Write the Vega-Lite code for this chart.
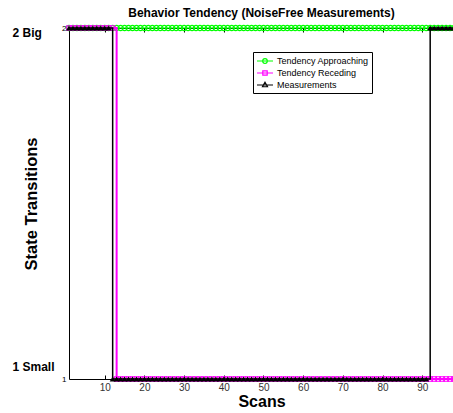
{
  "$schema": "https://vega.github.io/schema/vega-lite/v6.json",
  "autosize": "none",
  "width": 385,
  "height": 351,
  "padding": {"left": 69, "top": 28, "right": 0, "bottom": 34},
  "background": "white",
  "config": {"view": {"stroke": null}, "font": "Liberation Sans"},
  "title": {"text": "Behavior Tendency (NoiseFree Measurements)", "fontSize": 12, "fontWeight": "bold", "font": "Liberation Sans", "color": "black", "offset": 3},
  "data": {"values": [
    {"x":1,"a":2,"b":2,"c":2},{"x":2,"a":2,"b":2,"c":2},{"x":3,"a":2,"b":2,"c":2},{"x":4,"a":2,"b":2,"c":2},{"x":5,"a":2,"b":2,"c":2},
    {"x":6,"a":2,"b":2,"c":2},{"x":7,"a":2,"b":2,"c":2},{"x":8,"a":2,"b":2,"c":2},{"x":9,"a":2,"b":2,"c":2},{"x":10,"a":2,"b":2,"c":2},
    {"x":11,"a":2,"b":2,"c":2},{"x":12,"a":2,"b":2,"c":1},{"x":13,"a":2,"b":1,"c":1},{"x":14,"a":2,"b":1,"c":1},{"x":15,"a":2,"b":1,"c":1},
    {"x":16,"a":2,"b":1,"c":1},{"x":17,"a":2,"b":1,"c":1},{"x":18,"a":2,"b":1,"c":1},{"x":19,"a":2,"b":1,"c":1},{"x":20,"a":2,"b":1,"c":1},
    {"x":21,"a":2,"b":1,"c":1},{"x":22,"a":2,"b":1,"c":1},{"x":23,"a":2,"b":1,"c":1},{"x":24,"a":2,"b":1,"c":1},{"x":25,"a":2,"b":1,"c":1},
    {"x":26,"a":2,"b":1,"c":1},{"x":27,"a":2,"b":1,"c":1},{"x":28,"a":2,"b":1,"c":1},{"x":29,"a":2,"b":1,"c":1},{"x":30,"a":2,"b":1,"c":1},
    {"x":31,"a":2,"b":1,"c":1},{"x":32,"a":2,"b":1,"c":1},{"x":33,"a":2,"b":1,"c":1},{"x":34,"a":2,"b":1,"c":1},{"x":35,"a":2,"b":1,"c":1},
    {"x":36,"a":2,"b":1,"c":1},{"x":37,"a":2,"b":1,"c":1},{"x":38,"a":2,"b":1,"c":1},{"x":39,"a":2,"b":1,"c":1},{"x":40,"a":2,"b":1,"c":1},
    {"x":41,"a":2,"b":1,"c":1},{"x":42,"a":2,"b":1,"c":1},{"x":43,"a":2,"b":1,"c":1},{"x":44,"a":2,"b":1,"c":1},{"x":45,"a":2,"b":1,"c":1},
    {"x":46,"a":2,"b":1,"c":1},{"x":47,"a":2,"b":1,"c":1},{"x":48,"a":2,"b":1,"c":1},{"x":49,"a":2,"b":1,"c":1},{"x":50,"a":2,"b":1,"c":1},
    {"x":51,"a":2,"b":1,"c":1},{"x":52,"a":2,"b":1,"c":1},{"x":53,"a":2,"b":1,"c":1},{"x":54,"a":2,"b":1,"c":1},{"x":55,"a":2,"b":1,"c":1},
    {"x":56,"a":2,"b":1,"c":1},{"x":57,"a":2,"b":1,"c":1},{"x":58,"a":2,"b":1,"c":1},{"x":59,"a":2,"b":1,"c":1},{"x":60,"a":2,"b":1,"c":1},
    {"x":61,"a":2,"b":1,"c":1},{"x":62,"a":2,"b":1,"c":1},{"x":63,"a":2,"b":1,"c":1},{"x":64,"a":2,"b":1,"c":1},{"x":65,"a":2,"b":1,"c":1},
    {"x":66,"a":2,"b":1,"c":1},{"x":67,"a":2,"b":1,"c":1},{"x":68,"a":2,"b":1,"c":1},{"x":69,"a":2,"b":1,"c":1},{"x":70,"a":2,"b":1,"c":1},
    {"x":71,"a":2,"b":1,"c":1},{"x":72,"a":2,"b":1,"c":1},{"x":73,"a":2,"b":1,"c":1},{"x":74,"a":2,"b":1,"c":1},{"x":75,"a":2,"b":1,"c":1},
    {"x":76,"a":2,"b":1,"c":1},{"x":77,"a":2,"b":1,"c":1},{"x":78,"a":2,"b":1,"c":1},{"x":79,"a":2,"b":1,"c":1},{"x":80,"a":2,"b":1,"c":1},
    {"x":81,"a":2,"b":1,"c":1},{"x":82,"a":2,"b":1,"c":1},{"x":83,"a":2,"b":1,"c":1},{"x":84,"a":2,"b":1,"c":1},{"x":85,"a":2,"b":1,"c":1},
    {"x":86,"a":2,"b":1,"c":1},{"x":87,"a":2,"b":1,"c":1},{"x":88,"a":2,"b":1,"c":1},{"x":89,"a":2,"b":1,"c":1},{"x":90,"a":2,"b":1,"c":1},
    {"x":91,"a":2,"b":1,"c":1},{"x":92,"a":2,"b":1,"c":2},{"x":93,"a":2,"b":1,"c":2},{"x":94,"a":2,"b":1,"c":2},{"x":95,"a":2,"b":1,"c":2},
    {"x":96,"a":2,"b":1,"c":2},{"x":97,"a":2,"b":1,"c":2},{"x":98,"a":2,"b":1,"c":2}
  ]},
  "transform": [{"fold": ["a", "b", "c"], "as": ["k", "v"]}],
  "resolve": {"axis": {"x": "independent", "y": "independent"}, "legend": {"color": "independent", "shape": "independent"}, "scale": {"shape": "independent"}},
  "layer": [
    {
      "transform": [{"filter": "datum.k == 'a'"}],
      "mark": {"type": "line", "interpolate": "step-after", "strokeWidth": 1.2, "clip": false},
      "encoding": {
        "x": {"field": "x", "type": "quantitative", "scale": {"domain": [1, 98], "nice": false, "zero": false},
          "axis": {"orient": "bottom", "values": [10,20,30,40,50,60,70,80,90], "tickSize": -4, "tickColor": "black", "domainColor": "black", "labelFontSize": 10, "labelColor": "#333", "labelPadding": 7, "grid": false, "title": "Scans", "titleFontSize": 16, "titleFontWeight": "bold", "titleColor": "black", "titlePadding": 1}},
        "y": {"field": "v", "type": "quantitative", "scale": {"domain": [1, 2], "nice": false, "zero": false},
          "axis": {"orient": "left", "values": [1, 2], "format": "d", "ticks": false, "domainColor": "black", "labelFontSize": 8, "labelColor": "black", "labelPadding": 3, "grid": false, "title": null}},
        "color": {"field": "k", "type": "nominal", "scale": {"domain": ["a", "b", "c"], "range": ["#00ff00", "#ff00ff", "#000000"]}, "legend": null}
      }
    },
    {
      "transform": [{"filter": "datum.k == 'a'"}],
      "mark": {"type": "point", "shape": "circle", "filled": false, "size": 28, "strokeWidth": 1.2, "opacity": 1, "clip": false},
      "encoding": {
        "x": {"field": "x", "type": "quantitative", "axis": null},
        "y": {"field": "v", "type": "quantitative", "axis": null},
        "color": {"field": "k", "type": "nominal", "legend": null}
      }
    },
    {
      "transform": [{"filter": "datum.k == 'b'"}],
      "mark": {"type": "line", "interpolate": "step-after", "strokeWidth": 2, "clip": false},
      "encoding": {
        "x": {"field": "x", "type": "quantitative", "axis": null},
        "y": {"field": "v", "type": "quantitative", "axis": null},
        "color": {"field": "k", "type": "nominal", "legend": null}
      }
    },
    {
      "transform": [{"filter": "datum.k == 'b'"}],
      "mark": {"type": "point", "shape": "square", "filled": false, "size": 20, "strokeWidth": 1.2, "opacity": 1, "clip": false},
      "encoding": {
        "x": {"field": "x", "type": "quantitative", "axis": null},
        "y": {"field": "v", "type": "quantitative", "axis": null},
        "color": {"field": "k", "type": "nominal", "legend": null}
      }
    },
    {
      "transform": [{"filter": "datum.k == 'c'"}],
      "mark": {"type": "line", "interpolate": "step-after", "strokeWidth": 1.5, "clip": false},
      "encoding": {
        "x": {"field": "x", "type": "quantitative", "axis": null},
        "y": {"field": "v", "type": "quantitative", "axis": null},
        "color": {"field": "k", "type": "nominal", "legend": null}
      }
    },
    {
      "transform": [{"filter": "datum.k == 'c'"}],
      "mark": {"type": "point", "shape": "triangle-up", "filled": true, "size": 36, "strokeWidth": 1, "opacity": 1, "clip": false},
      "encoding": {
        "x": {"field": "x", "type": "quantitative", "axis": null},
        "y": {"field": "v", "type": "quantitative", "axis": null},
        "color": {"field": "k", "type": "nominal", "legend": null}
      }
    },
    {
      "transform": [{"filter": "datum.x < 0"}],
      "mark": {"type": "point", "filled": false, "size": 100, "strokeWidth": 1.2, "opacity": 1},
      "encoding": {
        "x": {"field": "x", "type": "quantitative",
          "axis": {"orient": "top", "values": [10,20,30,40,50,60,70,80,90], "tickSize": -4, "tickColor": "black", "domainColor": "black", "labels": false, "grid": false, "title": null}},
        "y": {"field": "v", "type": "quantitative",
          "axis": {"orient": "left", "values": [1, 2], "domain": false, "ticks": false, "grid": false,
            "labelExpr": "datum.value == 2 ? '2 Big' : '1 Small'", "labelFontSize": 12, "labelFontWeight": "bold", "labelColor": "black", "labelAlign": "left", "labelPadding": 57,
            "labelOffset": {"condition": {"test": "datum.value == 2", "value": 4}, "value": -13},
            "title": "State Transitions", "titleFontSize": 16.5, "titleFontWeight": "bold", "titleColor": "black", "titleX": -30}},
        "color": {"field": "k", "type": "nominal",
          "legend": {"orient": "none", "legendX": 184, "legendY": 24, "title": null, "strokeColor": "black", "fillColor": "white", "padding": 3, "labelFontSize": 9, "labelColor": "black", "symbolSize": 100, "symbolStrokeWidth": 1.2, "symbolOffset": 3, "rowPadding": 1, "labelOffset": 6,
            "labelExpr": "datum.label == 'a' ? 'Tendency Approaching' : datum.label == 'b' ? 'Tendency Receding' : 'Measurements'"}},
        "shape": {"field": "k", "type": "nominal",
          "scale": {"domain": ["a", "b", "c"], "range": ["M-1.6,0H1.6M-0.46,0A0.46,0.46 0 1,0 0.46,0A0.46,0.46 0 1,0 -0.46,0Z", "M-1.6,0H1.6M-0.44,-0.44H0.44V0.44H-0.44Z", "M-1.6,0H1.6M0,-0.55L0.5,0.35H-0.5Z"]},
          "legend": {"orient": "none", "legendX": 184, "legendY": 24, "title": null, "strokeColor": "black", "fillColor": "white", "padding": 3, "labelFontSize": 9, "labelColor": "black", "symbolSize": 100, "symbolStrokeWidth": 1.2, "symbolOffset": 3, "rowPadding": 1, "labelOffset": 6,
            "labelExpr": "datum.label == 'a' ? 'Tendency Approaching' : datum.label == 'b' ? 'Tendency Receding' : 'Measurements'"}}
      }
    }
  ]
}
